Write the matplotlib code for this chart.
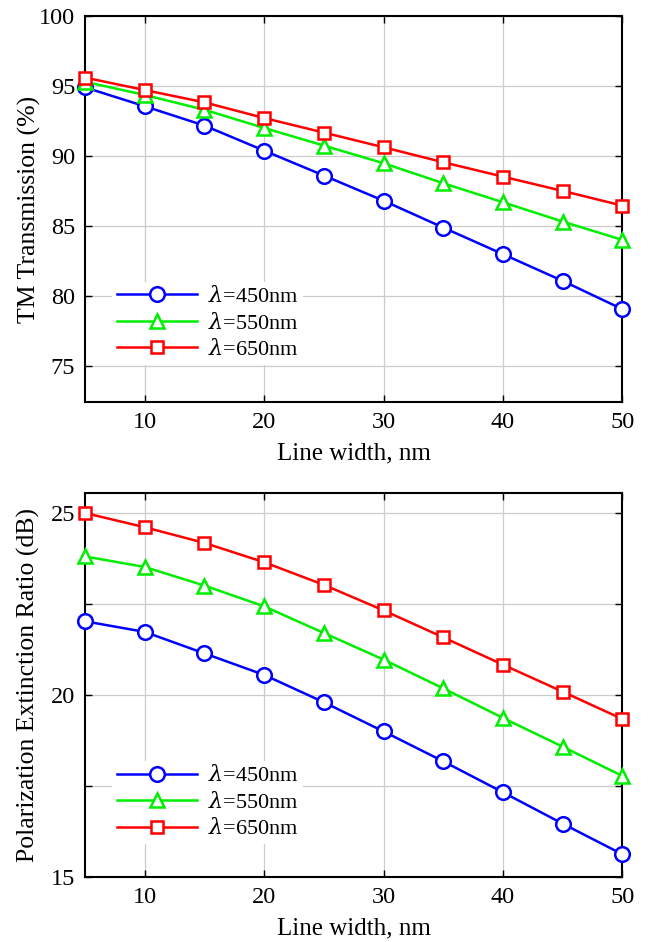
import numpy as np
import matplotlib
matplotlib.use('Agg')
import matplotlib.pyplot as plt

plt.rcParams['font.family'] = ['Liberation Serif', 'DejaVu Serif']
plt.rcParams['mathtext.fontset'] = 'dejavuserif'

# Data
width = [5, 10, 15, 20, 25, 30, 35, 40, 45, 50]
labels = [r'$\lambda$=450nm', r'$\lambda$=550nm', r'$\lambda$=650nm']

tm_450 = [94.9, 93.55, 92.17, 90.38, 88.6, 86.8, 84.88, 82.98, 81.07, 79.05]
tm_550 = [95.3, 94.36, 93.3, 92.0, 90.74, 89.48, 88.05, 86.69, 85.31, 84.0]
tm_650 = [95.6, 94.71, 93.83, 92.71, 91.67, 90.62, 89.55, 88.52, 87.5, 86.45]

per_450 = [22.02, 21.73, 21.14, 20.55, 19.8, 19.0, 18.18, 17.33, 16.47, 15.63]
per_550 = [23.8, 23.51, 23.0, 22.43, 21.7, 20.97, 20.18, 19.37, 18.58, 17.78]
per_650 = [24.99, 24.6, 24.17, 23.64, 23.02, 22.32, 21.58, 20.83, 20.09, 19.34]

colors = ['#0000ff', '#00ee00', '#ff0000']
markers = ['o', '^', 's']
msizes = [10.5, 10, 8.5]

fig = plt.figure(figsize=(6.49, 9.42), dpi=100)
ax1 = fig.add_axes([0.131, 0.573, 0.828, 0.410])
ax2 = fig.add_axes([0.131, 0.0687, 0.828, 0.4076])


def draw(ax, series, legend_y):
    for ys, c, m, ms, lab in zip(series, colors, markers, msizes, labels):
        ax.plot(width, ys, color=c, marker=m, markersize=ms, markerfacecolor='white',
                markeredgecolor=c, markeredgewidth=1.8, linewidth=1.8, label=lab,
                clip_on=False, zorder=3)
    ax.set_xlim(5, 50)
    ax.set_xticks([10, 20, 30, 40, 50])
    ax.grid(True, color='#cccccc', linewidth=0.9)
    ax.set_axisbelow(True)
    ax.tick_params(direction='in', top=True, right=True, labelsize=17.5, length=5,
                   width=1, pad=7)
    for s in ax.spines.values():
        s.set_linewidth(1.5)
    ax.set_xlabel('Line width, nm', fontsize=18, labelpad=6.5)
    leg = ax.legend(loc='center left', bbox_to_anchor=(0.03, legend_y), fontsize=16,
                    handlelength=3.6, labelspacing=0.25, frameon=True, fancybox=False,
                    framealpha=1, edgecolor='none', borderpad=0.2, handletextpad=0.5)
    leg.set_zorder(5)


draw(ax1, [tm_450, tm_550, tm_650], 0.205)
ax1.set_ylim(72.4, 100)
ax1.set_yticks([75, 80, 85, 90, 95, 100])
ax1.set_ylabel('TM Transmission (%)', fontsize=18.5, labelpad=-1)

draw(ax2, [per_450, per_550, per_650], 0.195)
ax2.set_ylim(15, 25.53)
ax2.set_yticks([15, 17.5, 20, 22.5, 25])
ax2.set_yticklabels(['15', '', '20', '', '25'])
ax2.set_ylabel('Polarization Extinction Ratio (dB)', fontsize=18.5, labelpad=8)

plt.savefig('out.png', dpi=100)
